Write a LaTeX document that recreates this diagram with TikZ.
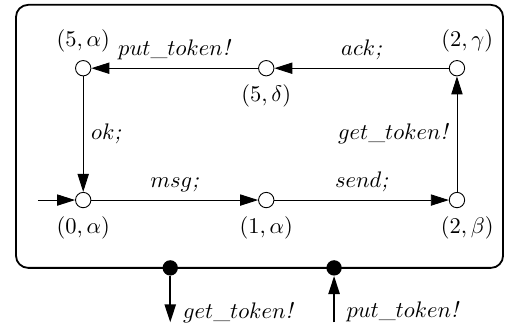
\documentclass[tikz,border=0pt]{standalone}
\usepackage{amssymb}
\usepackage{amsmath}
\usetikzlibrary{arrows.meta}

\begin{document}
\begin{tikzpicture}[>={Triangle[length=8pt,width=5pt]},
	loc/.style={draw,circle,inner sep=0pt,minimum size=0.24cm,fill=white},
	port/.style={circle,fill=black,inner sep=0pt,minimum size=0.24cm}]
			\useasboundingbox (0,0) rectangle (8,5.156);
			\draw [thick,rounded corners=0.19cm] (0.25,0.97) rectangle (7.86,5.08);
			\node [loc,label=above:{$(5,\alpha)$}] (s5a) at (1.30,4.09) {};
			\node [loc,label=below:{$(5,\delta)$}] (s5d) at (4.16,4.09) {};
			\node [loc,label={[xshift=0.16cm]above:{$(2,\gamma)$}}] (s2g) at (7.14,4.09) {};
			\node [loc,label=below:{$(0,\alpha)$}] (s0a) at (1.30,2.03) {};
			\node [loc,label=below:{$(1,\alpha)$}] (s1a) at (4.16,2.03) {};
			\node [loc,label={[xshift=0.16cm]below:{$(2,\beta)$}}] (s2b) at (7.14,2.03) {};
			\coordinate (init) at (0.59,2.03);
			\draw [->] (init) -- (s0a);
			\draw [->] (s0a) -- node [above] {$msg$\textit{;}} (s1a);
			\draw [->] (s1a) -- node [above] {$send$\textit{;}} (s2b);
			\draw [->] (s2b) -- node [left] {$get\_token$\textit{!}} (s2g);
			\draw [->] (s2g) -- node [above] {$ack$\textit{;}} (s5d);
			\draw [->] (s5d) -- node [above] {$put\_token$\textit{!}} (s5a);
			\draw [->] (s5a) -- node [right] {$ok$\textit{;}} (s0a);
			\node [port] (pget) at (2.66,0.97) {};
			\node [port] (pput) at (5.22,0.97) {};
			\coordinate (oget) at (2.66,0.12);
			\coordinate (oput) at (5.22,0.12);
			\draw [->,thick] (pget) -- (oget) node [right,pos=0.8,xshift=2pt] {$get\_token$\textit{!}};
			\draw [->,thick] (oput) -- (pput);
			\node [right,xshift=2pt] at (5.22,0.28) {$put\_token$\textit{!}};
			\end{tikzpicture}
\end{document}
